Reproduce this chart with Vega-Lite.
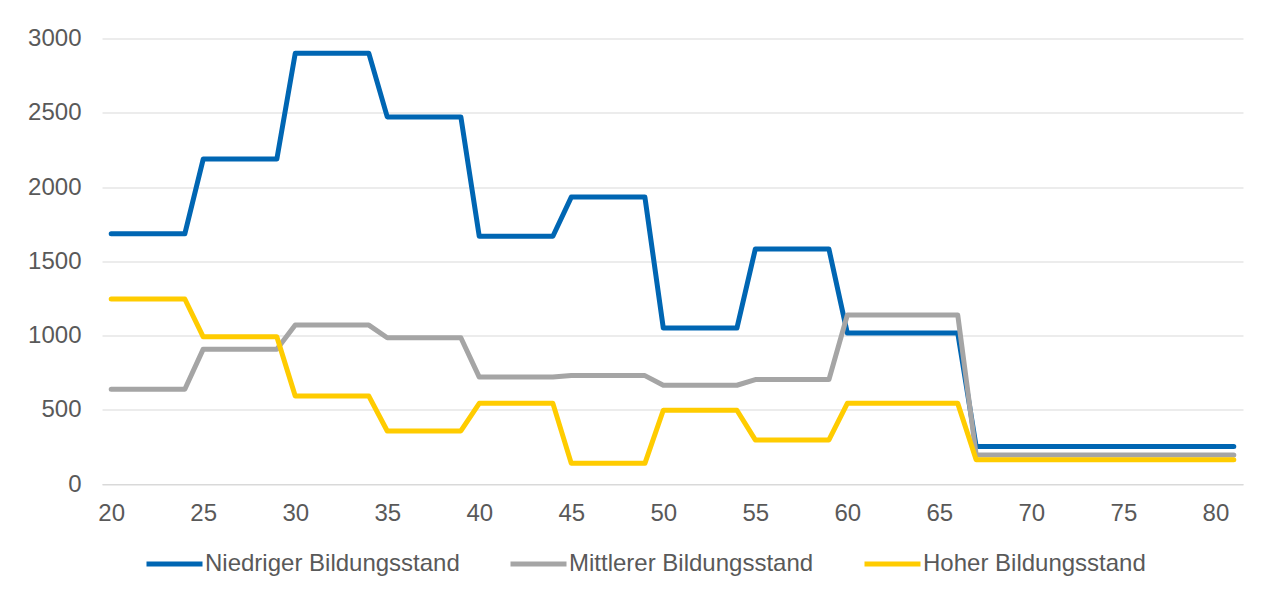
{
  "$schema": "https://vega.github.io/schema/vega-lite/v6.json",
  "autosize": "none",
  "width": 1141,
  "height": 445.5,
  "padding": {"left": 102, "top": 38.5, "right": 21, "bottom": 110},
  "background": "white",
  "config": {
    "view": {"stroke": null},
    "font": "Liberation Sans"
  },
  "data": {
    "values": [
      {"alter": 20, "n": 1685, "m": 638, "h": 1246},
      {"alter": 21, "n": 1685, "m": 638, "h": 1246},
      {"alter": 22, "n": 1685, "m": 638, "h": 1246},
      {"alter": 23, "n": 1685, "m": 638, "h": 1246},
      {"alter": 24, "n": 1685, "m": 638, "h": 1246},
      {"alter": 25, "n": 2188, "m": 908, "h": 991},
      {"alter": 26, "n": 2188, "m": 908, "h": 991},
      {"alter": 27, "n": 2188, "m": 908, "h": 991},
      {"alter": 28, "n": 2188, "m": 908, "h": 991},
      {"alter": 29, "n": 2188, "m": 908, "h": 991},
      {"alter": 30, "n": 2900, "m": 1070, "h": 592},
      {"alter": 31, "n": 2900, "m": 1070, "h": 592},
      {"alter": 32, "n": 2900, "m": 1070, "h": 592},
      {"alter": 33, "n": 2900, "m": 1070, "h": 592},
      {"alter": 34, "n": 2900, "m": 1070, "h": 592},
      {"alter": 35, "n": 2472, "m": 985, "h": 357},
      {"alter": 36, "n": 2472, "m": 985, "h": 357},
      {"alter": 37, "n": 2472, "m": 985, "h": 357},
      {"alter": 38, "n": 2472, "m": 985, "h": 357},
      {"alter": 39, "n": 2472, "m": 985, "h": 357},
      {"alter": 40, "n": 1668, "m": 720, "h": 543},
      {"alter": 41, "n": 1668, "m": 720, "h": 543},
      {"alter": 42, "n": 1668, "m": 720, "h": 543},
      {"alter": 43, "n": 1668, "m": 720, "h": 543},
      {"alter": 44, "n": 1668, "m": 720, "h": 543},
      {"alter": 45, "n": 1932, "m": 730, "h": 139},
      {"alter": 46, "n": 1932, "m": 730, "h": 139},
      {"alter": 47, "n": 1932, "m": 730, "h": 139},
      {"alter": 48, "n": 1932, "m": 730, "h": 139},
      {"alter": 49, "n": 1932, "m": 730, "h": 139},
      {"alter": 50, "n": 1050, "m": 665, "h": 497},
      {"alter": 51, "n": 1050, "m": 665, "h": 497},
      {"alter": 52, "n": 1050, "m": 665, "h": 497},
      {"alter": 53, "n": 1050, "m": 665, "h": 497},
      {"alter": 54, "n": 1050, "m": 665, "h": 497},
      {"alter": 55, "n": 1582, "m": 703, "h": 297},
      {"alter": 56, "n": 1582, "m": 703, "h": 297},
      {"alter": 57, "n": 1582, "m": 703, "h": 297},
      {"alter": 58, "n": 1582, "m": 703, "h": 297},
      {"alter": 59, "n": 1582, "m": 703, "h": 297},
      {"alter": 60, "n": 1016, "m": 1138, "h": 543},
      {"alter": 61, "n": 1016, "m": 1138, "h": 543},
      {"alter": 62, "n": 1016, "m": 1138, "h": 543},
      {"alter": 63, "n": 1016, "m": 1138, "h": 543},
      {"alter": 64, "n": 1016, "m": 1138, "h": 543},
      {"alter": 65, "n": 1016, "m": 1138, "h": 543},
      {"alter": 66, "n": 1016, "m": 1138, "h": 543},
      {"alter": 67, "n": 253, "m": 196, "h": 163},
      {"alter": 68, "n": 253, "m": 196, "h": 163},
      {"alter": 69, "n": 253, "m": 196, "h": 163},
      {"alter": 70, "n": 253, "m": 196, "h": 163},
      {"alter": 71, "n": 253, "m": 196, "h": 163},
      {"alter": 72, "n": 253, "m": 196, "h": 163},
      {"alter": 73, "n": 253, "m": 196, "h": 163},
      {"alter": 74, "n": 253, "m": 196, "h": 163},
      {"alter": 75, "n": 253, "m": 196, "h": 163},
      {"alter": 76, "n": 253, "m": 196, "h": 163},
      {"alter": 77, "n": 253, "m": 196, "h": 163},
      {"alter": 78, "n": 253, "m": 196, "h": 163},
      {"alter": 79, "n": 253, "m": 196, "h": 163},
      {"alter": 80, "n": 253, "m": 196, "h": 163},
      {"alter": 81, "n": 253, "m": 196, "h": 163}
    ]
  },
  "transform": [
    {"fold": ["n", "m", "h"], "as": ["reihe", "wert"]}
  ],
  "mark": {"type": "line", "strokeWidth": 5, "strokeCap": "round", "strokeJoin": "round"},
  "encoding": {
    "x": {
      "field": "alter",
      "type": "quantitative",
      "scale": {"domain": [19.5, 81.5], "nice": false, "zero": false},
      "axis": {
        "title": null,
        "values": [20, 25, 30, 35, 40, 45, 50, 55, 60, 65, 70, 75, 80],
        "format": "d",
        "grid": false,
        "ticks": false,
        "tickSize": 0,
        "domain": true,
        "domainColor": "#d9d9d9",
        "domainWidth": 1,
        "labelFont": "Liberation Sans",
        "labelFontSize": 24,
        "labelColor": "#595959",
        "labelPadding": 17
      }
    },
    "y": {
      "field": "wert",
      "type": "quantitative",
      "scale": {"domain": [0, 3000], "nice": false},
      "axis": {
        "title": null,
        "values": [0, 500, 1000, 1500, 2000, 2500, 3000],
        "format": "d",
        "grid": true,
        "gridColor": "#d9d9d9",
        "gridWidth": 1,
        "ticks": false,
        "tickSize": 0,
        "domain": false,
        "labelFont": "Liberation Sans",
        "labelFontSize": 24,
        "labelColor": "#595959",
        "labelPadding": 21
      }
    },
    "color": {
      "field": "reihe",
      "type": "nominal",
      "scale": {"domain": ["n", "m", "h"], "range": ["#0066b3", "#a5a5a5", "#ffcc00"]},
      "legend": {
        "title": null,
        "orient": "none",
        "direction": "horizontal",
        "legendX": 42,
        "legendY": 495,
        "padding": 0,
        "gridAlign": "none",
        "columnPadding": 40,
        "symbolType": "stroke",
        "symbolSize": 3136,
        "symbolStrokeWidth": 5,
        "labelOffset": 0,
        "labelFont": "Liberation Sans",
        "labelFontSize": 24,
        "labelColor": "#595959",
        "labelLimit": 400,
        "labelExpr": "datum.value == 'n' ? 'Niedriger Bildungsstand' : datum.value == 'm' ? 'Mittlerer Bildungsstand' : 'Hoher Bildungsstand'"
      }
    }
  }
}
